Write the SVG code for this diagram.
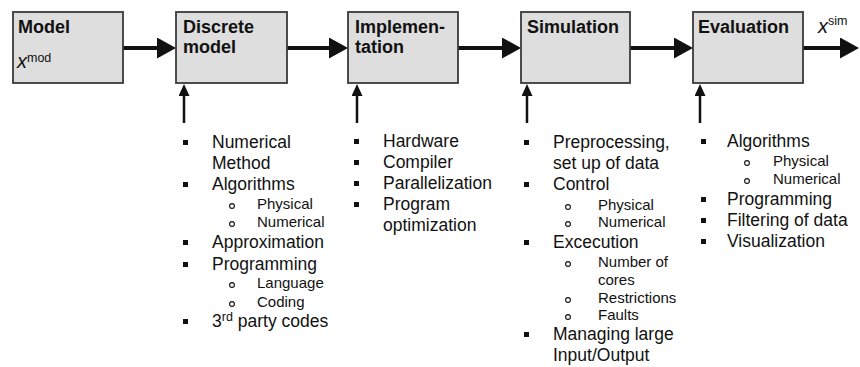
<svg xmlns="http://www.w3.org/2000/svg" width="860" height="367" viewBox="0 0 860 367">
<style>
text{font-family:"Liberation Sans",Arial,sans-serif;fill:#111}
.h{font-size:18px;font-weight:bold}
.m{font-size:17.5px}
.s{font-size:15px}
.var{font-size:20px;font-style:italic}
.sup{font-size:12.5px}
.box{fill:#dedede;stroke:#3a3a3a;stroke-width:1.8}
.ch{stroke:#111;stroke-width:4;fill:none}
.cv{stroke:#111;stroke-width:2.5;fill:none}
.sq{fill:#111}
.ci{fill:none;stroke:#111;stroke-width:1.1}
</style>
<defs>
<marker id="ah" markerUnits="userSpaceOnUse" markerWidth="20" markerHeight="22" refX="9" refY="10.5" orient="auto"><path d="M0,0 L19,10.5 L0,21 z" fill="#111"/></marker>
<marker id="av" markerUnits="userSpaceOnUse" markerWidth="13" markerHeight="12" refX="6" refY="5.5" orient="auto"><path d="M0,0 L12,5.5 L0,11 z" fill="#111"/></marker>
</defs>
<rect width="860" height="367" fill="#fff"/>

<g id="connectors">
<line class="ch" x1="123" y1="48" x2="166" y2="48" marker-end="url(#ah)"/>
<line class="ch" x1="287" y1="48" x2="338" y2="48" marker-end="url(#ah)"/>
<line class="ch" x1="458" y1="48" x2="511" y2="48" marker-end="url(#ah)"/>
<line class="ch" x1="630" y1="48" x2="683" y2="48" marker-end="url(#ah)"/>
<line class="ch" x1="803" y1="48" x2="849" y2="48" marker-end="url(#ah)"/>
<line class="cv" x1="184" y1="123" x2="184" y2="90" marker-end="url(#av)"/>
<line class="cv" x1="357" y1="123" x2="357" y2="90" marker-end="url(#av)"/>
<line class="cv" x1="527" y1="123" x2="527" y2="90" marker-end="url(#av)"/>
<line class="cv" x1="700" y1="123" x2="700" y2="90" marker-end="url(#av)"/>
</g>

<g id="model">
<rect class="box" x="13" y="12" width="110" height="71"/>
<text class="h" x="18" y="33">Model</text>
<text x="17" y="68"><tspan class="var">x</tspan><tspan class="sup" dy="-6">mod</tspan></text>
</g>

<g id="discrete-model">
<rect class="box" x="176" y="12" width="111" height="71"/>
<text class="h" x="183" y="33">Discrete</text>
<text class="h" x="183" y="53">model</text>
</g>

<g id="implementation">
<rect class="box" x="348" y="12" width="110" height="71"/>
<text class="h" x="355" y="33">Implemen-</text>
<text class="h" x="355" y="53">tation</text>
</g>

<g id="simulation">
<rect class="box" x="521" y="12" width="109" height="71"/>
<text class="h" x="527" y="33">Simulation</text>
</g>

<g id="evaluation">
<rect class="box" x="693" y="12" width="110" height="71"/>
<text class="h" x="698" y="33">Evaluation</text>
</g>

<g id="x-sim">
<text x="818" y="33"><tspan class="var">x</tspan><tspan class="sup" dy="-8">sim</tspan></text>
</g>

<g id="list-discrete">
<rect class="sq" x="183" y="140" width="5" height="5"/>
<text class="m" x="212" y="148">Numerical</text>
<text class="m" x="212" y="169">Method</text>
<rect class="sq" x="183" y="182" width="5" height="5"/>
<text class="m" x="212" y="190">Algorithms</text>
<circle class="ci" cx="232" cy="206" r="2.4"/>
<text class="s" x="257" y="209">Physical</text>
<circle class="ci" cx="232" cy="224" r="2.4"/>
<text class="s" x="257" y="227">Numerical</text>
<rect class="sq" x="183" y="240" width="5" height="5"/>
<text class="m" x="212" y="248">Approximation</text>
<rect class="sq" x="183" y="262" width="5" height="5"/>
<text class="m" x="212" y="270">Programming</text>
<circle class="ci" cx="232" cy="285" r="2.4"/>
<text class="s" x="257" y="288">Language</text>
<circle class="ci" cx="232" cy="304" r="2.4"/>
<text class="s" x="257" y="307">Coding</text>
<rect class="sq" x="183" y="319" width="5" height="5"/>
<text class="m" x="212" y="327">3<tspan class="sup" dy="-6">rd</tspan><tspan dy="6"> party codes</tspan></text>
</g>

<g id="list-implementation">
<rect class="sq" x="354" y="139" width="5" height="5"/>
<text class="m" x="383" y="147">Hardware</text>
<rect class="sq" x="354" y="160" width="5" height="5"/>
<text class="m" x="383" y="168">Compiler</text>
<rect class="sq" x="354" y="181" width="5" height="5"/>
<text class="m" x="383" y="189">Parallelization</text>
<rect class="sq" x="354" y="202" width="5" height="5"/>
<text class="m" x="383" y="210">Program</text>
<text class="m" x="383" y="231">optimization</text>
</g>

<g id="list-simulation">
<rect class="sq" x="524" y="140" width="5" height="5"/>
<text class="m" x="553" y="148">Preprocessing,</text>
<text class="m" x="553" y="169">set up of data</text>
<rect class="sq" x="524" y="182" width="5" height="5"/>
<text class="m" x="553" y="190">Control</text>
<circle class="ci" cx="568" cy="207" r="2.4"/>
<text class="s" x="598" y="210">Physical</text>
<circle class="ci" cx="568" cy="224" r="2.4"/>
<text class="s" x="598" y="227">Numerical</text>
<rect class="sq" x="524" y="240" width="5" height="5"/>
<text class="m" x="553" y="248">Excecution</text>
<circle class="ci" cx="568" cy="264" r="2.4"/>
<text class="s" x="598" y="267">Number of</text>
<text class="s" x="598" y="285">cores</text>
<circle class="ci" cx="568" cy="300" r="2.4"/>
<text class="s" x="598" y="303">Restrictions</text>
<circle class="ci" cx="568" cy="317" r="2.4"/>
<text class="s" x="598" y="320">Faults</text>
<rect class="sq" x="524" y="332" width="5" height="5"/>
<text class="m" x="553" y="340">Managing large</text>
<text class="m" x="553" y="361">Input/Output</text>
</g>

<g id="list-evaluation">
<rect class="sq" x="701" y="139" width="5" height="5"/>
<text class="m" x="727" y="147">Algorithms</text>
<circle class="ci" cx="747" cy="163" r="2.4"/>
<text class="s" x="773" y="166">Physical</text>
<circle class="ci" cx="747" cy="181" r="2.4"/>
<text class="s" x="773" y="184">Numerical</text>
<rect class="sq" x="701" y="197" width="5" height="5"/>
<text class="m" x="727" y="205">Programming</text>
<rect class="sq" x="701" y="218" width="5" height="5"/>
<text class="m" x="727" y="226">Filtering of data</text>
<rect class="sq" x="701" y="239" width="5" height="5"/>
<text class="m" x="727" y="247">Visualization</text>
</g>
</svg>
